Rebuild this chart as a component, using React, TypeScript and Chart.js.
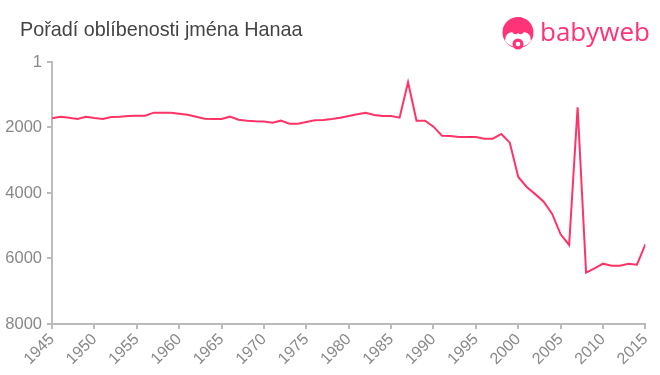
import React, { useEffect, useRef } from "react";
import { Chart, registerables } from "chart.js";

Chart.register(...registerables);

const title = "Pořadí oblíbenosti jména Hanaa";
const years = [
  1945, 1946, 1947, 1948, 1949, 1950, 1951, 1952, 1953, 1954, 1955, 1956, 1957, 1958, 1959,
  1960, 1961, 1962, 1963, 1964, 1965, 1966, 1967, 1968, 1969, 1970, 1971, 1972, 1973, 1974,
  1975, 1976, 1977, 1978, 1979, 1980, 1981, 1982, 1983, 1984, 1985, 1986, 1987, 1988, 1989,
  1990, 1991, 1992, 1993, 1994, 1995, 1996, 1997, 1998, 1999, 2000, 2001, 2002, 2003, 2004,
  2005, 2006, 2007, 2008, 2009, 2010, 2011, 2012, 2013, 2014, 2015,
];
const ranks = [
  1719, 1670, 1700, 1740, 1670, 1710, 1740, 1679, 1670, 1649, 1639, 1639, 1548, 1548, 1548,
  1578, 1609, 1670, 1731, 1740, 1740, 1670, 1762, 1792, 1810, 1815, 1853, 1792, 1884, 1884,
  1832, 1780, 1771, 1740, 1700, 1649, 1598, 1548, 1618, 1649, 1649, 1700, 620, 1792, 1792,
  1975, 2250, 2259, 2290, 2290, 2290, 2342, 2342, 2198, 2463, 3510, 3815, 4035, 4265, 4641,
  5261, 5587, 1383, 6432, 6300, 6158, 6219, 6219, 6158, 6189, 5566,
];
const yTicks = [1, 2000, 4000, 6000, 8000];

export default function App() {
  const ref = useRef<HTMLCanvasElement | null>(null);
  useEffect(() => {
    document.body.style.margin = "0";
    const ctx = ref.current!;
    const chart = new Chart(ctx, {
      type: "line",
      data: {
        datasets: [
          {
            data: years.map((y, i) => ({ x: y, y: ranks[i] })),
            borderColor: "#ff3366",
            borderWidth: 2,
            pointRadius: 0,
            tension: 0,
            fill: false,
          },
        ],
      },
      options: {
        animation: false,
        responsive: false,
        maintainAspectRatio: false,
        layout: { padding: { left: 0, right: 14, top: 62, bottom: 0 } },
        plugins: { legend: { display: false }, tooltip: { enabled: false }, title: { display: false } },
        scales: {
          x: {
            type: "linear",
            min: 1945,
            max: 2015,
            afterBuildTicks: (s: any) => {
              const t = [];
              for (let v = 1945; v <= 2015; v += 5) t.push({ value: v });
              s.ticks = t;
            },
            afterFit: (s: any) => {
              s.height = 51;
            },
            grid: { display: true, drawOnChartArea: false, drawTicks: true, tickLength: 5, color: "#bbbbbb", lineWidth: 2 },
            border: { display: true, color: "#bbbbbb", width: 2 },
            ticks: {
              minRotation: 45,
              maxRotation: 45,
              color: "#888888",
              padding: 1,
              font: { family: "'Liberation Sans', Arial, sans-serif", size: 16 },
              callback: (v: any) => String(v),
            },
          },
          y: {
            type: "linear",
            reverse: true,
            min: 1,
            max: 8000,
            afterBuildTicks: (s: any) => {
              s.ticks = yTicks.map((v) => ({ value: v }));
            },
            afterFit: (s: any) => {
              s.width = 52;
            },
            grid: { display: true, drawOnChartArea: false, drawTicks: true, tickLength: 5, color: "#bbbbbb", lineWidth: 2 },
            border: { display: true, color: "#bbbbbb", width: 2 },
            ticks: {
              color: "#888888",
              padding: 5,
              font: { family: "'Liberation Sans', Arial, sans-serif", size: 16.5 },
              callback: (v: any) => String(v),
            },
          },
        },
      },
    });
    return () => chart.destroy();
  }, []);

  return (
    <div style={{ position: "relative", width: 660, height: 375, fontFamily: "'Liberation Sans', Arial, sans-serif" }}>
      <canvas ref={ref} width={660} height={375} style={{ position: "absolute", left: 0, top: 0 }} />
      <div style={{ position: "absolute", left: 20, top: 18, fontSize: 19.8, lineHeight: "23px", color: "#444444", whiteSpace: "nowrap" }}>{title}</div>
      <svg width="34" height="34" viewBox="0 0 34 34" style={{ position: "absolute", left: 501, top: 17 }}>
        <circle cx="17" cy="15.5" r="15.5" fill="#ff3377" />
        <path d="M4 24 Q4 16 11 15 Q14 19 17 16 Q20 19 23 15 Q30 16 30 24 Q25 30 17 30 Q9 30 4 24 Z" fill="#ffffff" />
        <circle cx="17" cy="27" r="5.5" fill="#ff3377" />
        <circle cx="17" cy="27" r="2.3" fill="#ffffff" />
      </svg>
      <div style={{ position: "absolute", left: 540, top: 14, color: "#ff3377", fontSize: 26, lineHeight: "34px", fontWeight: 500, whiteSpace: "nowrap", fontFamily: "'Open Sans', 'Liberation Sans', sans-serif" }}>babyweb</div>
    </div>
  );
}
